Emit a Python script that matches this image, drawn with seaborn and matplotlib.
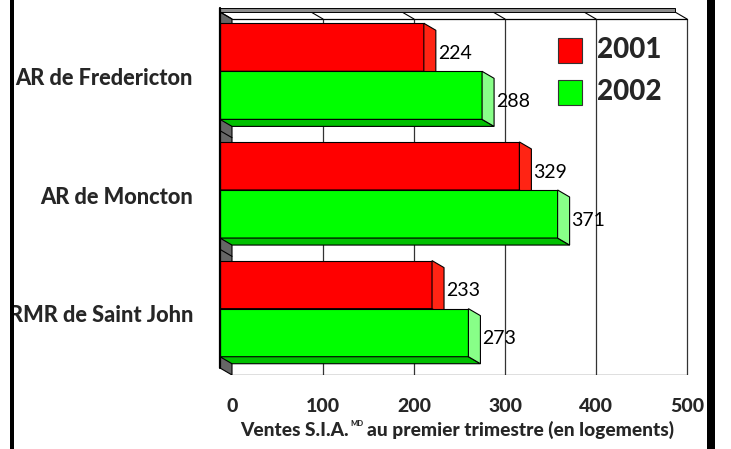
import matplotlib
matplotlib.use("Agg")
import matplotlib.pyplot as plt
from matplotlib.patches import Polygon, Rectangle
import seaborn as sns
import pandas as pd

# --- data -------------------------------------------------------------
regions = ["AR de Fredericton", "AR de Moncton", "RMR de Saint John"]
years = ["2001", "2002"]
ventes_2001 = [224, 329, 233]
ventes_2002 = [288, 371, 273]
x_ticks = [0, 100, 200, 300, 400, 500]
x_label_parts = ["Ventes S.I.A.", "MD", "au premier trimestre (en logements)"]

front_colors = {"2001": "#FF0000", "2002": "#00FF00"}
side_colors = {"2001": "#FF2414", "2002": "#88FF88"}
bottom_colors = {"2001": "#C00000", "2002": "#00C000"}

df = pd.DataFrame({
    "region": regions * 2,
    "annee": [years[0]] * 3 + [years[1]] * 3,
    "ventes": ventes_2001 + ventes_2002,
})

# --- style ------------------------------------------------------------
sns.set_theme(style="white")
plt.rcParams["font.family"] = ["Lato", "DejaVu Sans"]

W, H = 731, 449
fig = plt.figure(figsize=(W / 100, H / 100), dpi=100)

# axes geometry (pixels)
x0_px, ax_right_px = 220, 700
top_px, bottom_px = 12, 375
px_per_unit = 0.91
cat_px = 118.6

ax = fig.add_axes([x0_px / W, (H - bottom_px) / H,
                   (ax_right_px - x0_px) / W, (bottom_px - top_px) / H])

dx = 12 / px_per_unit      # depth offset in value units
dy = 7 / cat_px            # depth offset in category units

sns.barplot(data=df, x="ventes", y="region", hue="annee", orient="h",
            palette=front_colors, width=0.81, edgecolor="black",
            linewidth=0.8, legend=False, ax=ax, saturation=1)

ax.set_xlim(0, (ax_right_px - x0_px) / px_per_unit)
ax.set_ylim(2.5 + dy, -0.5)
ax.axis("off")

xmax = x_ticks[-1]
y_top, y_bot = -0.5, 2.5

# left wall (floor at value 0)
wall = Polygon([(0, y_top), (dx, y_top + dy), (dx, y_bot + dy), (0, y_bot)],
               closed=True, facecolor="#666666", edgecolor="black",
               linewidth=0.8, zorder=1)
ax.add_patch(wall)
for b in [0.5, 1.5]:
    ax.plot([0, dx], [b, b + dy], color="black", lw=0.8, zorder=1.2)

# back wall gridlines and frame
for v in x_ticks[1:]:
    ax.plot([v + dx, v + dx], [y_top + dy, y_bot + dy], color="#333333",
            lw=0.9, zorder=1.5)
for v in x_ticks:
    ax.plot([v, v + dx], [y_top, y_top + dy], color="black", lw=0.8,
            zorder=1.5)
ax.plot([dx, xmax + dx], [y_top + dy, y_top + dy], color="black", lw=0.9,
        zorder=1.5)
ax.plot([dx, xmax + dx], [y_bot + dy, y_bot + dy], color="black", lw=0.9,
        zorder=1.5)
band_h = 3.5 / cat_px
ax.add_patch(Rectangle((0, y_top - band_h), xmax, band_h,
                       facecolor="#8C8C8C", edgecolor="black",
                       linewidth=0.7, zorder=2, clip_on=False))
ax.plot([0, 0], [y_top - band_h, y_bot], color="black", lw=1.6,
        zorder=6, clip_on=False)

# 3-D faces for each bar, derived from the seaborn bar rectangles
bars = [p for p in ax.patches if isinstance(p, Rectangle)
        and p.get_width() > 0 and p.get_height() < 1][:6]
for i, p in enumerate(bars):
    yr = years[i // 3]
    z = 3 + (i // 3)
    p.set_zorder(z)
    w = p.get_width()
    y = p.get_y()
    h = p.get_height()
    side = Polygon([(w, y), (w + dx, y + dy), (w + dx, y + h + dy), (w, y + h)],
                   closed=True, facecolor=side_colors[yr], edgecolor="black",
                   linewidth=0.8, zorder=z)
    bottom = Polygon([(0, y + h), (w, y + h), (w + dx, y + h + dy),
                      (dx, y + h + dy)], closed=True,
                     facecolor=bottom_colors[yr], edgecolor="black",
                     linewidth=0.8, zorder=z)
    ax.add_patch(bottom)
    ax.add_patch(side)
    ax.annotate(f"{int(round(w))}", xy=(w + dx, y + h / 2 + dy * 0.9),
                xytext=(2, 0), textcoords="offset pixels", ha="left",
                va="center", fontsize=14, color="black", zorder=8)

# category labels
for k, r in enumerate(regions):
    ax.annotate(r, xy=(0, k + dy), xytext=(-27, 0), textcoords="offset pixels",
                ha="right", va="center", fontsize=15.7, fontweight="black",
                annotation_clip=False)

# value-axis tick labels
for v in x_ticks:
    ax.annotate(f"{v}", xy=(v + dx, y_bot + dy), xytext=(0, -31),
                textcoords="offset pixels", ha="center", va="center",
                fontsize=14, fontweight="black", annotation_clip=False)

# axis title with a small "MD" mark after "S.I.A."
renderer = fig.canvas.get_renderer()
lab_y = (H - 430) / H
t1 = fig.text(0, lab_y, x_label_parts[0], ha="left", va="center",
              fontsize=13.8, fontweight="black")
t2 = fig.text(0, (H - 423) / H, x_label_parts[1], ha="left", va="center",
              fontsize=5.5, fontweight="black")
t3 = fig.text(0, lab_y, x_label_parts[2], ha="left", va="center",
              fontsize=13.8, fontweight="black")
w1 = t1.get_window_extent(renderer).width
w2 = t2.get_window_extent(renderer).width
w3 = t3.get_window_extent(renderer).width
gap = 1.5
total = w1 + gap + w2 + 3 + w3
start = 457 - total / 2
t1.set_x(start / W)
t2.set_x((start + w1 + gap) / W)
t3.set_x((start + w1 + gap + w2 + 3) / W)

# legend
for (yr, yc) in zip(years, [50, 92]):
    fig.add_artist(Rectangle(((558) / W, (H - yc - 12.5) / H), 24 / W, 25 / H,
                             transform=fig.transFigure,
                             facecolor=front_colors[yr], edgecolor="#333333",
                             linewidth=0.8))
    fig.text(597 / W, (H - yc) / H, yr, ha="left", va="center",
             fontsize=20, fontweight="black")

# outer frame bars
fig.add_artist(Rectangle((10 / W, 0), 4 / W, 1, transform=fig.transFigure,
                         facecolor="black", edgecolor="none", zorder=10))
fig.add_artist(Rectangle((707 / W, 0), 8 / W, 1, transform=fig.transFigure,
                         facecolor="black", edgecolor="none", zorder=10))

fig.savefig("out.png", dpi=100, facecolor="white")
